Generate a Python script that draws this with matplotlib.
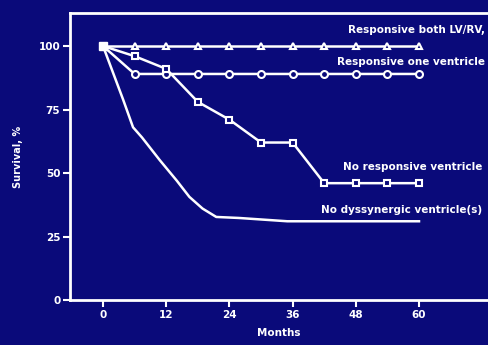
import matplotlib
matplotlib.use("Agg")
import matplotlib.pyplot as plt

# Data
months_marked = [0, 6, 12, 18, 24, 30, 36, 42, 48, 54, 60]
both_responsive = [100, 100, 100, 100, 100, 100, 100, 100, 100, 100, 100]
one_responsive = [100, 89, 89, 89, 89, 89, 89, 89, 89, 89, 89]
no_responsive = [100, 96, 91, 78, 71, 62, 62, 46, 46, 46, 46]
months_curve = [0, 3.8, 5.7, 7.4, 10.8, 14, 16.4, 18.9, 21.5, 25.8, 35, 60]
no_dyssynergic = [100, 79, 68, 64, 55, 47, 40.6, 36, 32.7, 32.3, 31, 31]

x_ticks = [0, 12, 24, 36, 48, 60]
y_ticks = [0, 25, 50, 75, 100]

labels = ["Responsive both LV/RV,", "Responsive one ventricle",
          "No responsive ventricle", "No dyssynergic ventricle(s)"]

bg = '#0a0a7a'
fg = 'white'

fig = plt.figure(figsize=(4.88, 3.45), dpi=100, facecolor=bg)
ax = fig.add_axes([70/488, 45/345, 1 - 70/488, (300-13)/345])
ax.set_facecolor(bg)

mk = dict(color=fg, lw=1.8, markersize=5, markeredgewidth=1.5,
          markerfacecolor=bg, markeredgecolor=fg, markevery=list(range(1, 11)))
ax.plot(months_marked, both_responsive, marker='^', **mk)
ax.plot(months_marked, one_responsive, marker='o', **mk)
ax.plot(months_marked, no_responsive, marker='s', **mk)
ax.plot(months_curve, no_dyssynergic, color=fg, lw=1.8)
ax.plot([0], [100], marker='s', color=fg, markersize=6)

ax.set_xlim(-6.27, 73.1)
ax.set_ylim(0, 113)
ax.set_xticks(x_ticks)
ax.set_yticks(y_ticks)
for s in ['left', 'bottom', 'top']:
    ax.spines[s].set_color(fg)
    ax.spines[s].set_linewidth(2)
ax.spines['right'].set_visible(False)
ax.tick_params(colors=fg, length=5, width=1.5, labelsize=7.5, pad=2)
for t in ax.get_xticklabels() + ax.get_yticklabels():
    t.set_fontweight('bold')

ax.set_ylabel('Survival, %', color=fg, fontsize=7, fontweight='bold', labelpad=11)
ax.set_xlabel('Months', color=fg, fontsize=7.5, fontweight='bold', labelpad=6)

tk = dict(color=fg, fontsize=7.5, fontweight='bold', ha='right', va='center')
ax.text(72.5, 106.3, labels[0], **tk)
ax.text(72.5, 93.7, labels[1], **tk)
ax.text(72.0, 52.4, labels[2], **tk)
ax.text(72.0, 35.4, labels[3], **tk)

fig.savefig('out.png', dpi=100, facecolor=bg)
